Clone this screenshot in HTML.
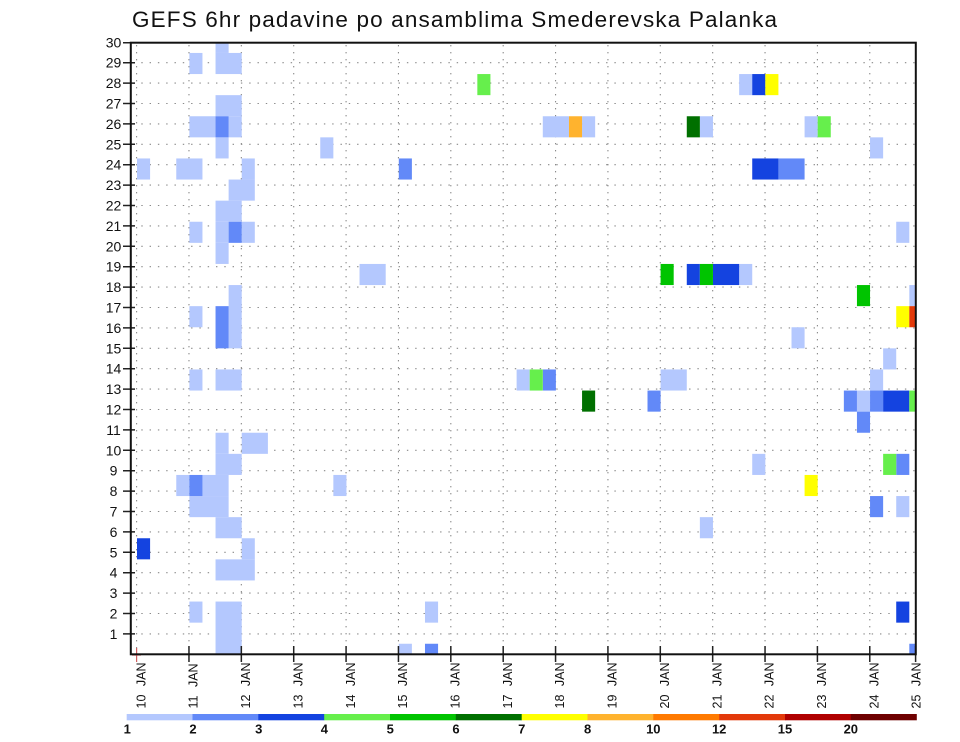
<!DOCTYPE html>
<html>
<head>
<meta charset="utf-8">
<style>
html,body{margin:0;padding:0;background:#fff;}
svg{display:block;}
text{font-family:"Liberation Sans", sans-serif;}
</style>
</head>
<body>
<svg width="960" height="742" viewBox="0 0 960 742" xmlns="http://www.w3.org/2000/svg">
<rect x="0" y="0" width="960" height="742" fill="#fff"/>
<defs>
<clipPath id="plot"><rect x="131" y="43" width="785" height="611.3"/></clipPath>
</defs>
<text x="132" y="27" font-size="22.5" fill="#111" textLength="645" lengthAdjust="spacing">GEFS 6hr padavine po ansamblima Smederevska Palanka</text>
<g stroke="#8a8a8a" stroke-width="1.1" stroke-dasharray="1.4 6.9" fill="none">
<path d="M133 633.9H916M133 613.5H916M133 593.1H916M133 572.7H916M133 552.3H916M133 531.9H916M133 511.5H916M133 491.1H916M133 470.7H916M133 450.3H916M133 429.9H916M133 409.5H916M133 389.1H916M133 368.7H916M133 348.3H916M133 327.9H916M133 307.5H916M133 287.1H916M133 266.7H916M133 246.3H916M133 225.9H916M133 205.5H916M133 185.1H916M133 164.7H916M133 144.3H916M133 123.9H916M133 103.5H916M133 83.1H916M133 62.7H916"/>
</g>
<g stroke="#8a8a8a" stroke-width="1.1" stroke-dasharray="1.4 5.6" fill="none">
<path d="M136.6 45V654M188.97 45V654M241.34 45V654M293.71 45V654M346.08 45V654M398.45 45V654M450.82 45V654M503.19 45V654M555.56 45V654M607.93 45V654M660.3 45V654M712.67 45V654M765.04 45V654M817.41 45V654M869.78 45V654"/>
</g>
<g clip-path="url(#plot)">
<g transform="translate(137,664.85) scale(13.09,-21.1)">
<g fill="#b4c8fe">
<rect x="6" y="29" width="1" height="1"/>
<rect x="4" y="28" width="1" height="1"/>
<rect x="6" y="28" width="2" height="1"/>
<rect x="6" y="26" width="2" height="1"/>
<rect x="4" y="25" width="2" height="1"/>
<rect x="7" y="25" width="1" height="1"/>
<rect x="6" y="24" width="1" height="1"/>
<rect x="0" y="23" width="1" height="1"/>
<rect x="3" y="23" width="2" height="1"/>
<rect x="8" y="23" width="1" height="1"/>
<rect x="7" y="22" width="2" height="1"/>
<rect x="6" y="21" width="2" height="1"/>
<rect x="4" y="20" width="1" height="1"/>
<rect x="6" y="20" width="1" height="1"/>
<rect x="8" y="20" width="1" height="1"/>
<rect x="6" y="19" width="1" height="1"/>
<rect x="7" y="15" width="1" height="3"/>
<rect x="4" y="16" width="1" height="1"/>
<rect x="4" y="13" width="1" height="1"/>
<rect x="6" y="13" width="2" height="1"/>
<rect x="6" y="10" width="1" height="1"/>
<rect x="8" y="10" width="2" height="1"/>
<rect x="6" y="9" width="2" height="1"/>
<rect x="3" y="8" width="1" height="1"/>
<rect x="5" y="8" width="2" height="1"/>
<rect x="4" y="7" width="3" height="1"/>
<rect x="6" y="6" width="2" height="1"/>
<rect x="8" y="5" width="1" height="1"/>
<rect x="6" y="4" width="3" height="1"/>
<rect x="4" y="2" width="1" height="1"/>
<rect x="6" y="0" width="2" height="3"/>
<rect x="31" y="25" width="2" height="1"/>
<rect x="34" y="25" width="1" height="1"/>
<rect x="14" y="24" width="1" height="1"/>
<rect x="17" y="18" width="2" height="1"/>
<rect x="29" y="13" width="1" height="1"/>
<rect x="15" y="8" width="1" height="1"/>
<rect x="22" y="2" width="1" height="1"/>
<rect x="20" y="0" width="1" height="1"/>
<rect x="46" y="27" width="1" height="1"/>
<rect x="43" y="25" width="1" height="1"/>
<rect x="51" y="25" width="1" height="1"/>
<rect x="56" y="24" width="1" height="1"/>
<rect x="58" y="20" width="1" height="1"/>
<rect x="46" y="18" width="1" height="1"/>
<rect x="59" y="17" width="1" height="1"/>
<rect x="50" y="15" width="1" height="1"/>
<rect x="57" y="14" width="1" height="1"/>
<rect x="40" y="13" width="2" height="1"/>
<rect x="56" y="13" width="1" height="1"/>
<rect x="55" y="12" width="1" height="1"/>
<rect x="47" y="9" width="1" height="1"/>
<rect x="58" y="7" width="1" height="1"/>
<rect x="43" y="6" width="1" height="1"/>
</g>
<g fill="#6289f8">
<rect x="6" y="25" width="1" height="1"/>
<rect x="7" y="20" width="1" height="1"/>
<rect x="6" y="15" width="1" height="2"/>
<rect x="4" y="8" width="1" height="1"/>
<rect x="20" y="23" width="1" height="1"/>
<rect x="31" y="13" width="1" height="1"/>
<rect x="39" y="12" width="1" height="1"/>
<rect x="22" y="0" width="1" height="1"/>
<rect x="49" y="23" width="2" height="1"/>
<rect x="54" y="12" width="1" height="1"/>
<rect x="56" y="12" width="1" height="1"/>
<rect x="55" y="11" width="1" height="1"/>
<rect x="58" y="9" width="1" height="1"/>
<rect x="56" y="7" width="1" height="1"/>
<rect x="59" y="0" width="1" height="1"/>
</g>
<g fill="#1443e0">
<rect x="0" y="5" width="1" height="1"/>
<rect x="47" y="27" width="1" height="1"/>
<rect x="47" y="23" width="2" height="1"/>
<rect x="42" y="18" width="1" height="1"/>
<rect x="44" y="18" width="2" height="1"/>
<rect x="57" y="12" width="2" height="1"/>
<rect x="58" y="2" width="1" height="1"/>
</g>
<g fill="#66ef4c">
<rect x="26" y="27" width="1" height="1"/>
<rect x="30" y="13" width="1" height="1"/>
<rect x="52" y="25" width="1" height="1"/>
<rect x="59" y="12" width="1" height="1"/>
<rect x="57" y="9" width="1" height="1"/>
</g>
<g fill="#00c400">
<rect x="40" y="18" width="1" height="1"/>
<rect x="43" y="18" width="1" height="1"/>
<rect x="55" y="17" width="1" height="1"/>
</g>
<g fill="#007000">
<rect x="34" y="12" width="1" height="1"/>
<rect x="42" y="25" width="1" height="1"/>
</g>
<g fill="#ffff00">
<rect x="48" y="27" width="1" height="1"/>
<rect x="58" y="16" width="1" height="1"/>
<rect x="51" y="8" width="1" height="1"/>
</g>
<rect x="33" y="25" width="1" height="1" fill="#ffb32e"/>
<rect x="59" y="16" width="1" height="1" fill="#e3390a"/>
</g>
</g>
<g stroke="#222" stroke-width="1.5">
<path d="M123 633.9H135M123 613.5H135M123 593.1H135M123 572.7H135M123 552.3H135M123 531.9H135M123 511.5H135M123 491.1H135M123 470.7H135M123 450.3H135M123 429.9H135M123 409.5H135M123 389.1H135M123 368.7H135M123 348.3H135M123 327.9H135M123 307.5H135M123 287.1H135M123 266.7H135M123 246.3H135M123 225.9H135M123 205.5H135M123 185.1H135M123 164.7H135M123 144.3H135M123 123.9H135M123 103.5H135M123 83.1H135M123 62.7H135M123 42.7H131"/>
<path d="M188.97 646V662M241.34 646V662M293.71 646V662M346.08 646V662M398.45 646V662M450.82 646V662M503.19 646V662M555.56 646V662M607.93 646V662M660.3 646V662M712.67 646V662M765.04 646V662M817.41 646V662M869.78 646V662M915.6 646V662"/>
</g>
<path d="M136.6 648V662M132 655H141" stroke="#d06060" stroke-width="1.2"/>
<rect x="130.8" y="42.7" width="785" height="611.6" fill="none" stroke="#111" stroke-width="2"/>
<g font-size="14" fill="#111" text-anchor="middle">
<text x="113.5" y="638.9">1</text>
<text x="113.5" y="618.5">2</text>
<text x="113.5" y="598.1">3</text>
<text x="113.5" y="577.7">4</text>
<text x="113.5" y="557.3">5</text>
<text x="113.5" y="536.9">6</text>
<text x="113.5" y="516.5">7</text>
<text x="113.5" y="496.1">8</text>
<text x="113.5" y="475.7">9</text>
<text x="113.5" y="455.3">10</text>
<text x="113.5" y="434.9">11</text>
<text x="113.5" y="414.5">12</text>
<text x="113.5" y="394.1">13</text>
<text x="113.5" y="373.7">14</text>
<text x="113.5" y="353.3">15</text>
<text x="113.5" y="332.9">16</text>
<text x="113.5" y="312.5">17</text>
<text x="113.5" y="292.1">18</text>
<text x="113.5" y="271.7">19</text>
<text x="113.5" y="251.3">20</text>
<text x="113.5" y="230.9">21</text>
<text x="113.5" y="210.5">22</text>
<text x="113.5" y="190.1">23</text>
<text x="113.5" y="169.7">24</text>
<text x="113.5" y="149.3">25</text>
<text x="113.5" y="128.9">26</text>
<text x="113.5" y="108.5">27</text>
<text x="113.5" y="88.1">28</text>
<text x="113.5" y="67.7">29</text>
<text x="113.5" y="47.5">30</text>
</g>
<g font-size="12.5" fill="#111">
<text transform="translate(145.3,708.5) rotate(-90)">10 <tspan dx="5">JAN</tspan></text>
<text transform="translate(197.7,708.5) rotate(-90)">11 <tspan dx="5">JAN</tspan></text>
<text transform="translate(250.0,708.5) rotate(-90)">12 <tspan dx="5">JAN</tspan></text>
<text transform="translate(302.4,708.5) rotate(-90)">13 <tspan dx="5">JAN</tspan></text>
<text transform="translate(354.8,708.5) rotate(-90)">14 <tspan dx="5">JAN</tspan></text>
<text transform="translate(407.1,708.5) rotate(-90)">15 <tspan dx="5">JAN</tspan></text>
<text transform="translate(459.5,708.5) rotate(-90)">16 <tspan dx="5">JAN</tspan></text>
<text transform="translate(511.9,708.5) rotate(-90)">17 <tspan dx="5">JAN</tspan></text>
<text transform="translate(564.2,708.5) rotate(-90)">18 <tspan dx="5">JAN</tspan></text>
<text transform="translate(616.6,708.5) rotate(-90)">19 <tspan dx="5">JAN</tspan></text>
<text transform="translate(669.0,708.5) rotate(-90)">20 <tspan dx="5">JAN</tspan></text>
<text transform="translate(721.3,708.5) rotate(-90)">21 <tspan dx="5">JAN</tspan></text>
<text transform="translate(773.7,708.5) rotate(-90)">22 <tspan dx="5">JAN</tspan></text>
<text transform="translate(826.1,708.5) rotate(-90)">23 <tspan dx="5">JAN</tspan></text>
<text transform="translate(878.4,708.5) rotate(-90)">24 <tspan dx="5">JAN</tspan></text>
<text transform="translate(920.5,708.5) rotate(-90)">25 <tspan dx="5">JAN</tspan></text>
</g>
<rect x="126.7" y="714" width="66.2" height="6.3" fill="#b4c8fe"/>
<rect x="192.5" y="714" width="66.2" height="6.3" fill="#6289f8"/>
<rect x="258.3" y="714" width="66.2" height="6.3" fill="#1443e0"/>
<rect x="324.2" y="714" width="66.2" height="6.3" fill="#66ef4c"/>
<rect x="390.0" y="714" width="66.2" height="6.3" fill="#00c400"/>
<rect x="455.8" y="714" width="66.2" height="6.3" fill="#007000"/>
<rect x="521.7" y="714" width="66.2" height="6.3" fill="#ffff00"/>
<rect x="587.5" y="714" width="66.2" height="6.3" fill="#ffb32e"/>
<rect x="653.3" y="714" width="66.2" height="6.3" fill="#ff7a00"/>
<rect x="719.2" y="714" width="66.2" height="6.3" fill="#e3390a"/>
<rect x="785.0" y="714" width="66.2" height="6.3" fill="#b00000"/>
<rect x="850.8" y="714" width="66.0" height="6.3" fill="#6e0000"/>
<g font-size="13" font-weight="bold" fill="#111" text-anchor="middle">
<text x="127.2" y="733.3">1</text>
<text x="193.0" y="733.3">2</text>
<text x="258.8" y="733.3">3</text>
<text x="324.4" y="733.3">4</text>
<text x="390.2" y="733.3">5</text>
<text x="456.0" y="733.3">6</text>
<text x="521.8" y="733.3">7</text>
<text x="587.6" y="733.3">8</text>
<text x="653.3" y="733.3">10</text>
<text x="719.2" y="733.3">12</text>
<text x="785.0" y="733.3">15</text>
<text x="850.8" y="733.3">20</text>
</g>
</svg>
</body>
</html>
